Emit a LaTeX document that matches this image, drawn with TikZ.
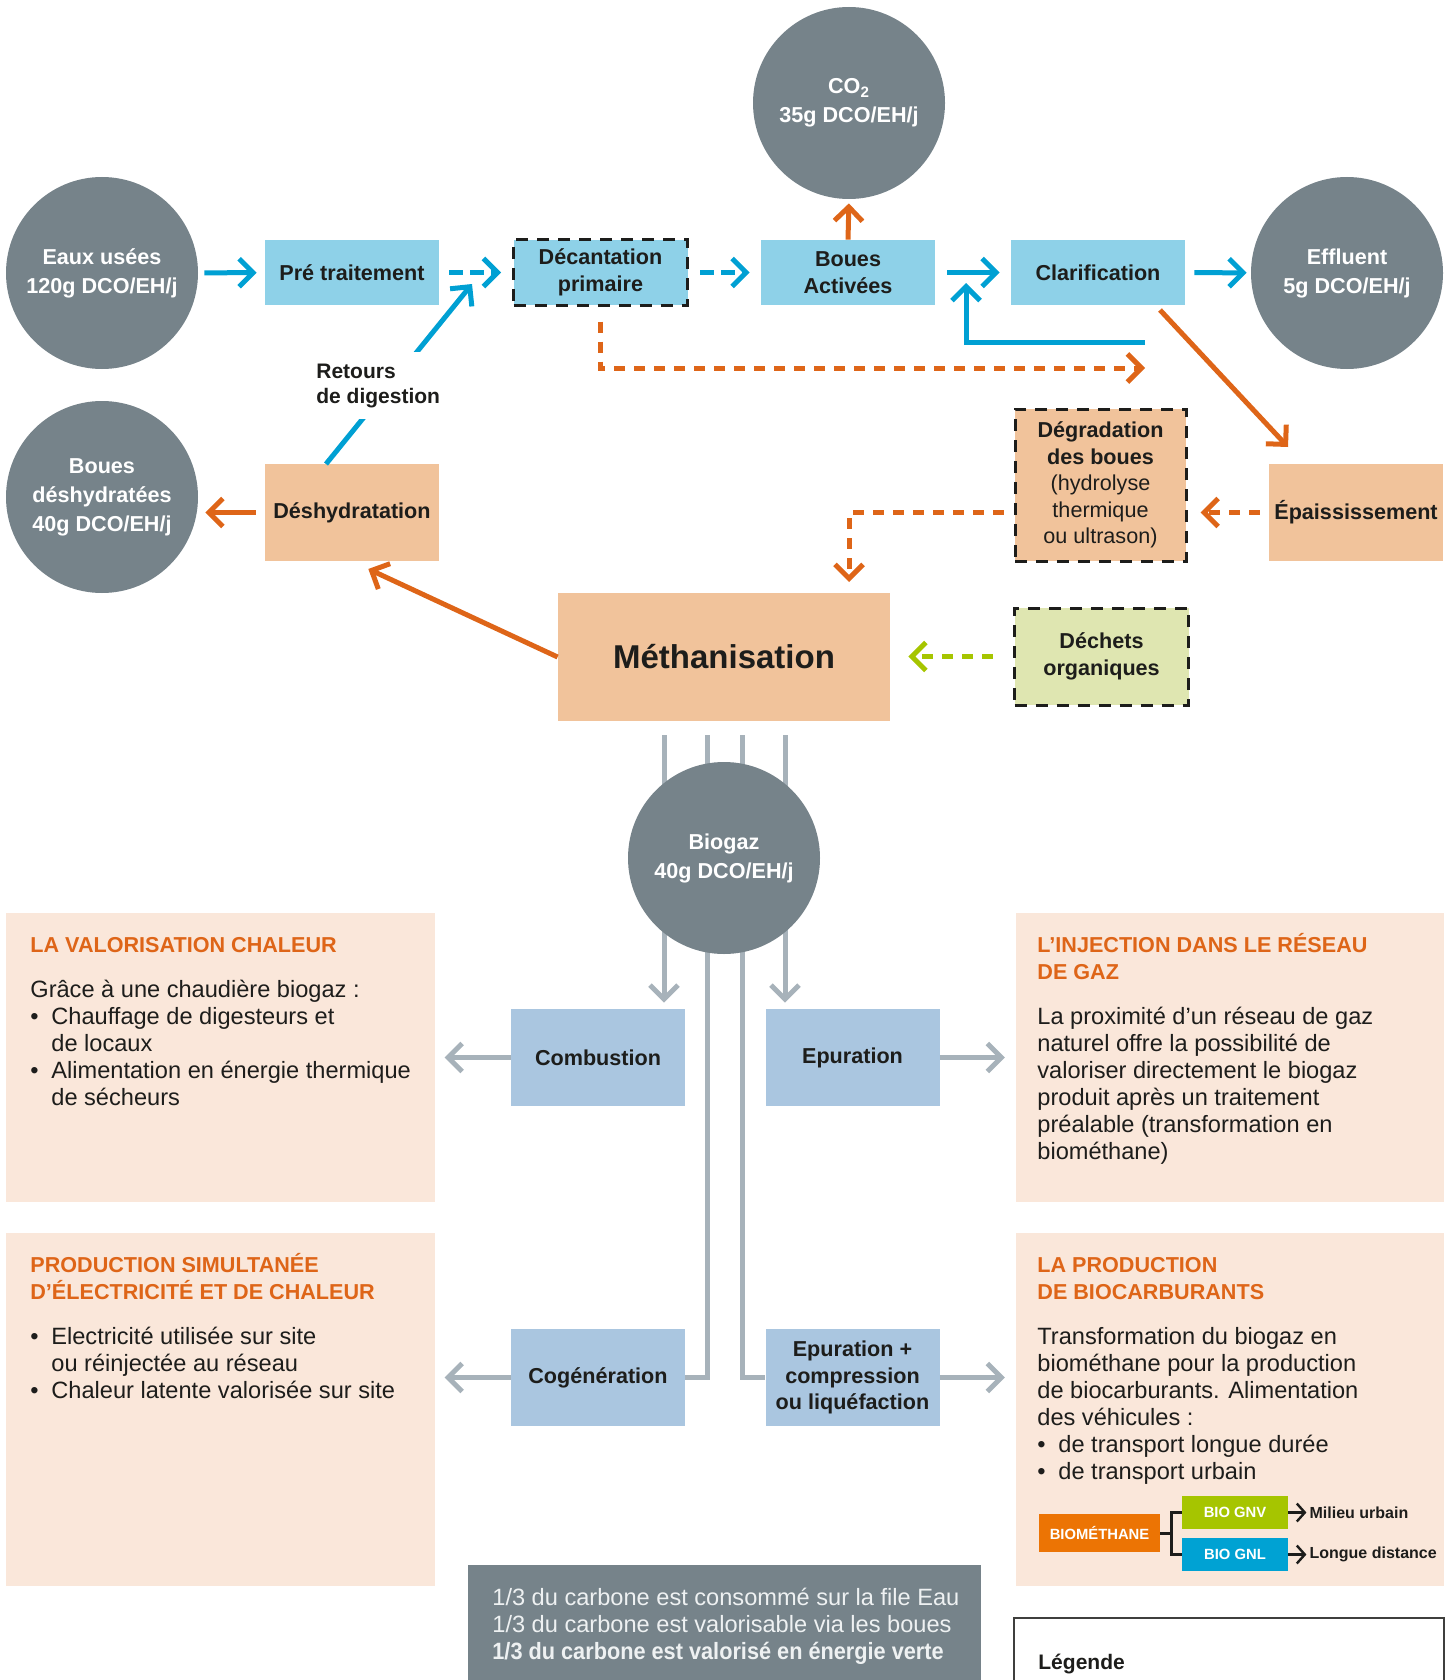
\documentclass[tikz,border=0pt]{standalone}
\usepackage{fontspec}
\setmainfont{Liberation Sans}
\newfontfamily\etroite{Liberation Sans}[FakeStretch=0.92]
\usetikzlibrary{arrows.meta}

\definecolor{grisrond}{HTML}{76838A}
\definecolor{bleuclair}{HTML}{8ED1E8}
\definecolor{bleufleche}{HTML}{00A0D3}
\definecolor{orangefleche}{HTML}{DE6518}
\definecolor{orangeboite}{HTML}{F1C39B}
\definecolor{rosepanneau}{HTML}{FAE7DA}
\definecolor{bleugris}{HTML}{AAC6E0}
\definecolor{grisligne}{HTML}{A7B2BA}
\definecolor{vertfleche}{HTML}{A6C500}
\definecolor{vertpale}{HTML}{DFE6B1}
\definecolor{orangebio}{HTML}{EC7404}
\definecolor{bleubio}{HTML}{00A2D3}
\definecolor{encre}{HTML}{1D1D1B}
\definecolor{textegris}{HTML}{EEF1F2}

\newcommand{\taille}[2]{\fontsize{#1}{#2}\selectfont}
\newcommand{\puce}{\par\hangindent=10.5pt\hangafter=1\noindent\makebox[10.5pt][l]{•}}
\newcommand{\titre}[1]{\leavevmode{\color{orangefleche}\bfseries\taille{10.8}{13.5}#1}\par\vspace{9pt}}
\newcommand{\panneau}[1]{\parbox[t]{200pt}{\raggedright\taille{11.8}{13.5}#1}}

\begin{document}
\begin{tikzpicture}[x=0.5pt, y=-0.5pt,
    cercle/.style={circle, fill=grisrond, minimum size=96pt, inner sep=0pt, text=white, align=center, font=\bfseries\taille{10.8}{14.5}},
    boite/.style={minimum width=87pt, minimum height=32.5pt, inner sep=0pt, align=center, text=encre, font=\bfseries\taille{10.8}{13.25}},
    boitebleue/.style={boite, fill=bleuclair},
    boiteorange/.style={boite, fill=orangeboite, minimum height=48.5pt},
    boitegaz/.style={boite, fill=bleugris, minimum height=48.5pt},
    pointille/.style={draw=encre, line width=1.5pt, dash pattern=on 6pt off 4.5pt},
    panneau/.style={fill=rosepanneau, inner sep=0pt},
    fleche/.style={line width=2.5pt, -{Straight Barb[length=7pt, width=14pt]}},
    flechebleue/.style={fleche, draw=bleufleche},
    flecheorange/.style={fleche, draw=orangefleche},
    flechegrise/.style={fleche, draw=grisligne},
    flecheverte/.style={fleche, draw=vertfleche},
    tirets/.style={dash pattern=on 5.5pt off 4.5pt},
    tiretsbleus/.style={dash pattern=on 7pt off 3.5pt},
    bio/.style={inner sep=0pt, minimum height=16.5pt, text=white, font=\bfseries\taille{7.4}{9}},
    flechenoire/.style={line width=1.2pt, draw=encre, -{Straight Barb[length=4pt, width=9pt]}},
]
\useasboundingbox (0,0) rectangle (1454,1680);

% file eau
\node[cercle] (eaux) at (102,273) {Eaux usées\\120g DCO/EH/j};
\node[cercle] (co2) at (849,103) {CO\textsubscript{2}\\35g DCO/EH/j};
\node[cercle] (effluent) at (1347,273) {Effluent\\5g DCO/EH/j};
\node[cercle] (bouesdes) at (102,497) {Boues\\déshydratées\\40g DCO/EH/j};

\node[boitebleue] (pretrait) at (352,272.5) {Pré traitement};
\node[boitebleue, pointille] (decant) at (600.5,272.5) {Décantation\\primaire};
\node[boitebleue] (bouesact) at (848,272.5) {Boues\\Activées};
\node[boitebleue] (clarif) at (1098,272.5) {Clarification};

% file boues
\node[boiteorange] (deshy) at (352,512.5) {Déshydratation};
\node[boiteorange, pointille, minimum width=85.5pt, minimum height=76pt] (degrad) at (1100.5,485)
    {Dégradation\\des boues\\\mdseries(hydrolyse\\\mdseries thermique\\\mdseries ou ultrason)};
\node[boiteorange] (epaiss) at (1356,512.5) {Épaississement};
\node[boite, fill=orangeboite, minimum width=166pt, minimum height=64pt, font=\bfseries\taille{16.5}{20}] (metha) at (724,657) {Méthanisation};
\node[boite, pointille, fill=vertpale, minimum height=48.5pt] (dechets) at (1101.5,656.5) {Déchets\\organiques};

\coordinate (retdep) at (326,464);
\coordinate (retfin) at (472,284);
\coordinate (retour) at (1145,342);
\coordinate (retourfin) at (966,283);
\coordinate (excedent) at (1145,368);
\coordinate (clardep) at (1160,310);
\coordinate (epaissfin) at (1288,447);
\coordinate (methaentree) at (849,593);

\draw[flechebleue, shorten <=3pt, shorten >=4pt] (eaux) -- (pretrait);
\draw[flechebleue, tiretsbleus, shorten <=5pt, shorten >=5.5pt] (pretrait) -- (decant);
\draw[flechebleue, tiretsbleus, shorten <=5.5pt, shorten >=5.5pt] (decant) -- (bouesact);
\draw[flechebleue, shorten <=6pt, shorten >=5.5pt] (bouesact) -- (clarif);
\draw[flechebleue, shorten <=4.5pt, shorten >=2pt] (clarif) -- (effluent);
\draw[flecheorange, shorten >=2pt] (bouesact.north) -- (co2.south);
\draw[flechebleue] (retour) -| (retourfin);
\draw[flecheorange, tirets, shorten <=7.5pt] (decant.south) |- (excedent);
\draw[flecheorange] (clardep) -- (epaissfin);
\draw[flecheorange, tirets, shorten <=4.5pt, shorten >=6.5pt] (epaiss.west) -- (epaiss.west -| degrad.east);
\draw[flecheorange, tirets, shorten <=5pt, shorten >=5.5pt] (epaiss.west -| degrad.west) -| (methaentree);
\draw[flecheverte, tirets, shorten <=10pt, shorten >=9pt] (dechets.west) -- (dechets.west -| metha.east);
\draw[flecheorange, shorten >=9pt] (metha.west) -- (deshy.south);
\draw[flecheorange, shorten <=4.5pt, shorten >=3.5pt] (deshy.west) -- (deshy.west -| bouesdes.east);
\draw[flechebleue] (retdep) -- (retfin);
\node[fill=white, inner xsep=3pt, inner ysep=6pt, anchor=base west, text=encre, font=\bfseries\taille{10.5}{12.5}] (retours) at (310,378)
    {\parbox[t]{70pt}{Retours\\de digestion}};

% valorisation du biogaz
\node[boitegaz] (combustion) at (598,1057.5) {Combustion};
\node[boitegaz] (epuration) at (852.5,1057.5) {Epuration};
\node[boitegaz] (cogen) at (598,1377.5) {Cogénération};
\node[boitegaz] (epurcomp) at (852.5,1377.5) {Epuration +\\compression\\ou liquéfaction};

\coordinate (g1) at (664,735);
\coordinate (g2) at (707,735);
\coordinate (g3) at (742,735);
\coordinate (g4) at (785,735);
\draw[flechegrise, shorten >=3pt] (g1) -- (g1 |- combustion.north);
\draw[flechegrise, shorten >=3pt] (g4) -- (g4 |- epuration.north);
\draw[draw=grisligne, line width=2.5pt] (g2) |- (cogen.east);
\draw[draw=grisligne, line width=2.5pt] (g3) |- (epurcomp.west);
\node[cercle] (biogaz) at (724,858) {Biogaz\\40g DCO/EH/j};

\draw[flechegrise] (combustion.west) -- ++(-66,0);
\draw[flechegrise] (epuration.east) -- ++(65,0);
\draw[flechegrise] (cogen.west) -- ++(-66,0);
\draw[flechegrise] (epurcomp.east) -- ++(65,0);

% panneaux
\node[panneau, minimum width=214.5pt, minimum height=144.5pt] (pchaleur) at (220.5,1057.5) {};
\node[panneau, minimum width=214pt, minimum height=144.5pt] (pinjection) at (1230,1057.5) {};
\node[panneau, minimum width=214.5pt, minimum height=176.5pt] (pcogen) at (220.5,1409.5) {};
\node[panneau, minimum width=214pt, minimum height=176.5pt] (pcarbu) at (1230,1409.5) {};

\node[anchor=base west, inner sep=0pt, text=encre] (tchaleur) at (30,952) {\panneau{%
    \titre{LA VALORISATION CHALEUR}
    Grâce à une chaudière biogaz :
    \puce Chauffage de digesteurs et\newline de locaux
    \puce Alimentation en énergie thermique\newline de sécheurs}};
\node[anchor=base west, inner sep=0pt, text=encre] (tinjection) at (1037,952) {\panneau{%
    \titre{L’INJECTION DANS LE RÉSEAU\\DE GAZ}
    La proximité d’un réseau de gaz\\naturel offre la possibilité de\\valoriser directement le biogaz\\produit après un traitement\\préalable (transformation en\\biométhane)}};
\node[anchor=base west, inner sep=0pt, text=encre] (tcogen) at (30,1272) {\panneau{%
    \titre{PRODUCTION SIMULTANÉE\\D’ÉLECTRICITÉ ET DE CHALEUR}
    \puce Electricité utilisée sur site\newline ou réinjectée au réseau
    \puce Chaleur latente valorisée sur site}};
\node[anchor=base west, inner sep=0pt, text=encre] (tcarbu) at (1037,1272) {\panneau{%
    \titre{LA PRODUCTION\\DE BIOCARBURANTS}
    Transformation du biogaz en\\biométhane pour la production\\de biocarburants. Alimentation\\des véhicules :
    \puce de transport longue durée
    \puce de transport urbain}};

% biocarburants
\node[bio, fill=orangebio, minimum width=60.5pt, minimum height=19pt] (biometh) at (1099.5,1533) {BIOMÉTHANE};
\node[bio, fill=vertfleche, minimum width=53pt] (gnv) at (1235,1512.5) {BIO GNV};
\node[bio, fill=bleubio, minimum width=53pt] (gnl) at (1235,1554.5) {BIO GNL};
\coordinate (fourche) at (1171,1533);
\draw[line width=1.5pt, draw=encre] (biometh.east) -- (fourche) |- (gnv.west);
\draw[line width=1.5pt, draw=encre] (fourche) |- (gnl.west);
\draw[flechenoire] (gnv.east) -- ++(18,0) node[right, inner sep=1pt, text=encre, font=\bfseries\taille{8}{9}] (milieu) {Milieu urbain};
\draw[flechenoire] (gnl.east) -- ++(18,0) node[right, inner sep=1pt, text=encre, font=\bfseries\taille{8}{9}] (longue) {Longue distance};

% bilan et legende
\node[fill=grisrond, minimum width=256.5pt, minimum height=62.5pt, inner sep=0pt] (cadrebilan) at (724.5,1627.5) {};
\node[anchor=base west, inner sep=0pt, text=textegris] (bilan) at (492,1605) {\parbox[t]{260pt}{\taille{11.8}{13.5}%
    1/3 du carbone est consommé sur la file Eau\\1/3 du carbone est valorisable via les boues\\{\etroite\bfseries 1/3 du carbone est valorisé en énergie verte}}};
\node[draw=encre!85, line width=0.8pt, minimum width=215pt, minimum height=40pt, anchor=north west] (legende) at (1013,1617) {};
\node[anchor=base west, inner sep=0pt, text=encre, font=\bfseries\taille{10.5}{12}] (tlegende) at (1038,1669) {Légende};
\end{tikzpicture}
\end{document}
